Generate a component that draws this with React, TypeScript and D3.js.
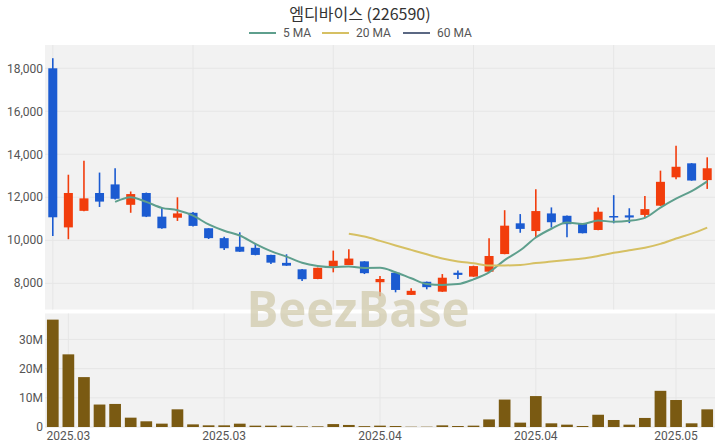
import * as d3 from 'd3';

// 엠디바이스 daily candles, 2025-03-06 .. 2025-05-08
const dates = [
  '2025-03-06', '2025-03-07', '2025-03-10', '2025-03-11', '2025-03-12', '2025-03-13', '2025-03-14',
  '2025-03-17', '2025-03-18', '2025-03-19', '2025-03-20', '2025-03-21', '2025-03-24', '2025-03-25',
  '2025-03-26', '2025-03-27', '2025-03-28', '2025-03-31', '2025-04-01', '2025-04-02', '2025-04-03',
  '2025-04-04', '2025-04-07', '2025-04-08', '2025-04-09', '2025-04-10', '2025-04-11', '2025-04-14',
  '2025-04-15', '2025-04-16', '2025-04-17', '2025-04-18', '2025-04-21', '2025-04-22', '2025-04-23',
  '2025-04-24', '2025-04-25', '2025-04-28', '2025-04-29', '2025-04-30', '2025-05-02', '2025-05-07',
  '2025-05-08',
];
const opens = [
  18000, 10600, 11370, 12200, 12600, 11650, 12200, 11100, 11050, 11280, 10560, 10100, 9700, 9650,
  9320, 8950, 8650, 8200, 8780, 8850, 9020, 8050, 8490, 7460, 8070, 7610, 8490, 8310,
  8540, 9360, 10790, 10430, 11250, 11140, 10790, 10480, 11130, 11160, 11180, 11610, 12930, 13580,
  12800,
];
const highs = [
  18470, 13050, 13700, 13150, 13350, 12270, 12220, 11500, 12000, 11320, 10560, 10170, 10370, 9860,
  9330, 9350, 8660, 8730, 9520, 9580, 9030, 8340, 8500, 7770, 8080, 8430, 8590, 8820,
  10090, 11400, 11220, 12370, 11530, 11150, 10800, 11530, 12100, 11490, 12060, 13240, 14400, 13590,
  13860,
];
const lows = [
  10200, 10050, 11350, 11550, 11900, 11280, 11080, 10540, 10900, 10640, 10060, 9550, 9460, 9300,
  8900, 8810, 8110, 8190, 8510, 8850, 8430, 7400, 7580, 7450, 7720, 7600, 8200, 8300,
  8530, 9350, 10350, 10120, 10590, 10140, 10320, 10470, 10790, 10800, 11070, 11600, 12840, 12770,
  12390,
];
const closes = [
  11070, 12200, 11950, 11800, 11930, 12150, 11100, 10560, 11250, 10670, 10100, 9630, 9470, 9320,
  8960, 8820, 8190, 8720, 9050, 9150, 8470, 8200, 7690, 7650, 7820, 8260, 8390, 8800,
  9270, 10680, 10530, 11360, 10840, 10750, 10330, 11330, 11060, 11060, 11450, 12720, 13420, 12780,
  13350,
];
const volumes = [
  36.8e6, 24.9e6, 17.1e6, 7.7e6, 7.9e6, 3.2e6, 1.95e6, 1.15e6, 6.06e6, 0.9e6, 0.57e6, 0.57e6, 1.14e6, 0.46e6,
  0.46e6, 0.46e6, 0.23e6, 0.23e6, 1.0e6, 0.7e6, 0.3e6, 0.46e6, 0.34e6, 0.1e6, 0.1e6, 0.57e6, 0.34e6, 0.46e6,
  2.6e6, 9.4e6, 1.5e6, 10.6e6, 1.26e6, 0.8e6, 0.34e6, 4.2e6, 2.4e6, 0.8e6, 3.1e6, 12.4e6, 9.25e6, 1.26e6,
  6.05e6,
];

const priceTicks = [8000, 10000, 12000, 14000, 16000, 18000];
const volumeTicks = [0, 10e6, 20e6, 30e6];
const mainGridIdx = [0, 9, 18, 27, 36];
const dateTickIdx = [1, 11, 21, 31, 40];

const maSeries = [
  { name: '5 MA', period: 5, color: '#5e9f8d' },
  { name: '20 MA', period: 20, color: '#d6c063' },
  { name: '60 MA', period: 60, color: '#5b6883' },
];

const UP = '#f23d0c';
const DOWN = '#1b5bd1';
const FONT = 'Roboto, "Noto Sans", sans-serif';

function movingAverage(values: number[], n: number) {
  const out: { i: number; v: number }[] = [];
  for (let i = n - 1; i < values.length; i++) {
    out.push({ i, v: d3.mean(values.slice(i - n + 1, i + 1)) as number });
  }
  return out;
}

export default function App() {
  const width = 720;
  const height = 448;
  const left = 45;
  const right = 715;
  const mainTop = 45;
  const mainBottom = 309.5;
  const volTop = 313.5;
  const volBottom = 427;

  const idx = d3.range(dates.length);
  const x = d3.scalePoint<number>().domain(idx).range([left, right]).padding(0.5);
  const y = d3.scaleLinear().domain([6781, 19084]).range([mainBottom, mainTop]);
  const yv = d3.scaleLinear().domain([0, 38.9e6]).range([volBottom, volTop]);

  const candleW = 9;
  const volW = 11.7;

  const line = d3
    .line<{ i: number; v: number }>()
    .x(d => x(d.i) as number)
    .y(d => y(d.v))
    .curve(d3.curveMonotoneX);

  const fmtVol = (v: number) => (v === 0 ? '0' : `${v / 1e6}M`);
  const fmtDate = (s: string) => s.slice(0, 7).replace('-', '.');

  // legend layout
  const legendX = [249, 322, 403];

  return (
    <svg
      width={width}
      height={height}
      style={{ position: 'absolute', left: 0, top: 0, background: '#fff' }}
      fontFamily={FONT}
    >
      <text
        x={360}
        y={20}
        textAnchor="middle"
        fontSize={16}
        fill="#333"
        fontFamily='"Noto Sans CJK KR", "Noto Sans", sans-serif'
      >
        엠디바이스 (226590)
      </text>

      {maSeries.map((m, k) => (
        <g key={m.name} transform={`translate(${legendX[k]},33)`}>
          <line x1={0} x2={27} y1={0} y2={0} stroke={m.color} strokeWidth={2} />
          <text x={34} y={0} dy="0.35em" fontSize={12} fill="#555">
            {m.name}
          </text>
        </g>
      ))}

      {/* panels */}
      <rect x={left} y={mainTop} width={right - left} height={mainBottom - mainTop} fill="#f2f2f2" />
      <rect x={left} y={volTop} width={right - left} height={volBottom - volTop} fill="#f2f2f2" />

      {priceTicks.map(t => (
        <g key={t}>
          <line x1={left} x2={right} y1={y(t)} y2={y(t)} stroke="#e6e6e6" />
          <text x={43} y={y(t)} dy="0.35em" textAnchor="end" fontSize={12} fill="#555">
            {d3.format(',')(t)}
          </text>
        </g>
      ))}
      {mainGridIdx.map(i => (
        <line key={i} x1={x(i)} x2={x(i)} y1={mainTop} y2={mainBottom} stroke="#e6e6e6" />
      ))}

      {volumeTicks.map(t => (
        <g key={t}>
          <line x1={left} x2={right} y1={yv(t)} y2={yv(t)} stroke="#e6e6e6" />
          <text x={43} y={yv(t)} dy="0.35em" textAnchor="end" fontSize={12} fill="#555">
            {fmtVol(t)}
          </text>
        </g>
      ))}
      {dateTickIdx.map(i => (
        <g key={i}>
          <line x1={x(i)} x2={x(i)} y1={volTop} y2={volBottom} stroke="#e6e6e6" />
          <text x={x(i)} y={440} textAnchor="middle" fontSize={12} fill="#555">
            {fmtDate(dates[i])}
          </text>
        </g>
      ))}

      {/* candles */}
      {idx.map(i => {
        const o = opens[i];
        const c = closes[i];
        const col = c >= o ? UP : DOWN;
        const cx = x(i) as number;
        const top = y(Math.max(o, c));
        const bot = y(Math.min(o, c));
        return (
          <g key={i}>
            <line x1={cx} x2={cx} y1={y(highs[i])} y2={y(lows[i])} stroke={col} strokeWidth={1.6} />
            <rect x={cx - candleW / 2} y={top} width={candleW} height={Math.max(1.5, bot - top)} fill={col} />
          </g>
        );
      })}

      {/* moving averages */}
      {maSeries.map(m => {
        const pts = movingAverage(closes, m.period);
        if (pts.length < 2) return null;
        return <path key={m.name} d={line(pts) ?? ''} fill="none" stroke={m.color} strokeWidth={2} />;
      })}

      {/* volume */}
      {idx.map(i => (
        <rect
          key={i}
          x={(x(i) as number) - volW / 2}
          y={yv(volumes[i])}
          width={volW}
          height={volBottom - yv(volumes[i])}
          fill="#7a5a12"
        />
      ))}

      <text
        x={358}
        y={327}
        textAnchor="middle"
        fontSize={50}
        fontWeight="bold"
        fill="#cfc7a6"
        fillOpacity={0.7}
        textLength={223}
        lengthAdjust="spacingAndGlyphs"
        fontFamily='"Open Sans", "DejaVu Sans", sans-serif'
      >
        BeezBase
      </text>
    </svg>
  );
}
